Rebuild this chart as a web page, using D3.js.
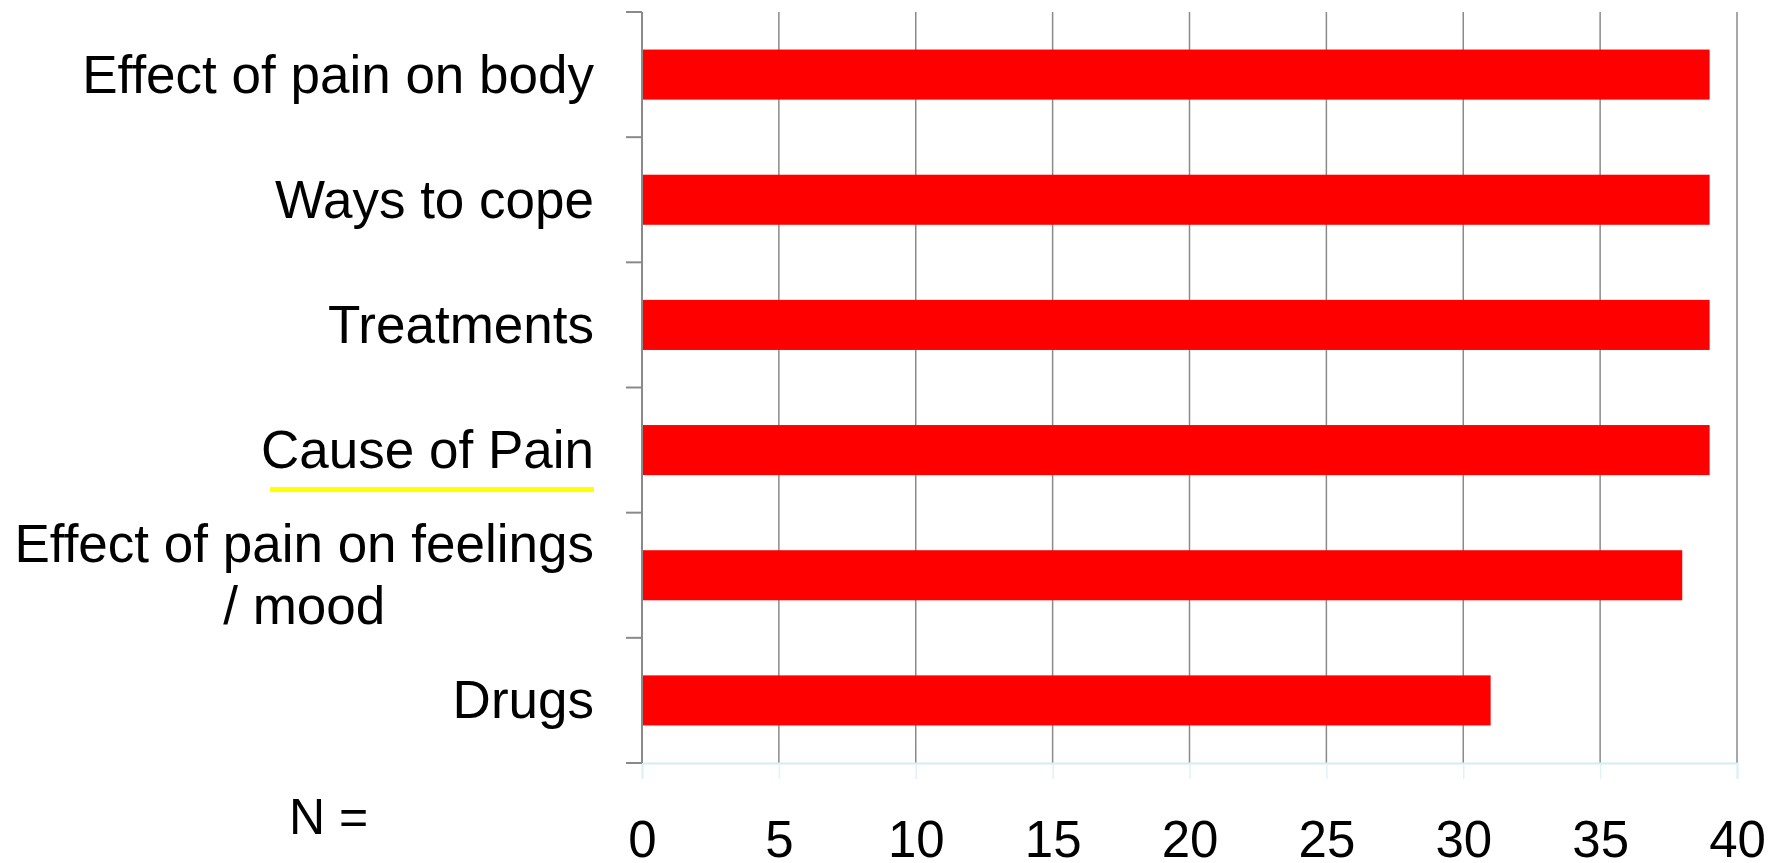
<!DOCTYPE html>
<html>
<head>
<meta charset="utf-8">
<script src="https://cdn.jsdelivr.net/npm/d3@7"></script>
<style>
  body { margin: 0; background: #fff; }
  text { font-family: "Liberation Sans", Arial, sans-serif; fill: #000; }
</style>
</head>
<body>
<div id="chart"></div>
<script>
// Chart size and margins
const width = 1779;
const height = 863;
const margin = { top: 12, right: 42, bottom: 100, left: 642 };

// Data
const categories = [
  "Effect of pain on body",
  "Ways to cope",
  "Treatments",
  "Cause of Pain",
  "Effect of pain on feelings\n/ mood",
  "Drugs"
];
const values = [39, 39, 39, 39, 38, 31];
const xTicks = [0, 5, 10, 15, 20, 25, 30, 35, 40];
const highlighted = "Cause of Pain";

const data = categories.map((c, i) => ({ category: c, value: values[i] }));

const svg = d3.select("#chart")
  .append("svg")
  .attr("width", width)
  .attr("height", height);

// Scales
const x = d3.scaleLinear()
  .domain([0, 40])
  .range([margin.left, width - margin.right]);

const y = d3.scaleBand()
  .domain(categories)
  .range([margin.top, height - margin.bottom])
  .padding(0);

const plotBottom = height - margin.bottom;

// Vertical grid lines
svg.append("g")
  .selectAll("line")
  .data(xTicks.slice(1))
  .enter()
  .append("line")
  .attr("x1", d => x(d))
  .attr("x2", d => x(d))
  .attr("y1", margin.top)
  .attr("y2", plotBottom)
  .attr("stroke", "#8a8a8a")
  .attr("stroke-width", 1.5);

// Bottom axis (light blue line and ticks, labels further down)
const xAxis = svg.append("g")
  .attr("transform", `translate(0, ${plotBottom})`)
  .call(d3.axisBottom(x).tickValues(xTicks).tickSize(16).tickPadding(42));

xAxis.select(".domain").attr("stroke", "#d3eef3").attr("stroke-width", 2);
xAxis.selectAll(".tick line").attr("stroke", "#dff3f7").attr("stroke-width", 1.5);
xAxis.selectAll(".tick text")
  .attr("font-size", 51)
  .attr("font-family", "Liberation Sans, Arial, sans-serif")
  .attr("fill", "#000");

// Bars
const barHeight = y.bandwidth() * 0.4;
svg.append("g")
  .selectAll("rect")
  .data(data)
  .enter()
  .append("rect")
  .attr("x", x(0))
  .attr("y", d => y(d.category) + (y.bandwidth() - barHeight) / 2)
  .attr("width", d => x(d.value) - x(0))
  .attr("height", barHeight)
  .attr("fill", "#ff0000");

// Left axis: grey line with ticks between categories
const bounds = categories.map(c => y(c)).concat([plotBottom]);
svg.append("line")
  .attr("x1", x(0)).attr("x2", x(0))
  .attr("y1", margin.top).attr("y2", plotBottom)
  .attr("stroke", "#8a8a8a")
  .attr("stroke-width", 2);

svg.append("g")
  .selectAll("line")
  .data(bounds)
  .enter()
  .append("line")
  .attr("x1", x(0) - 16)
  .attr("x2", x(0))
  .attr("y1", d => d)
  .attr("y2", d => d)
  .attr("stroke", "#8a8a8a")
  .attr("stroke-width", 2);

// Category labels (right aligned, wrapped lines centred under the first)
const labelX = x(0) - 48;
const fontSize = 53;
const lineGap = 62;
const capHalf = 18;

categories.forEach(c => {
  const lines = c.split("\n");
  const mid = y(c) + y.bandwidth() / 2;
  const firstBase = mid + capHalf - (lines.length - 1) * lineGap / 2;
  const first = svg.append("text")
    .attr("x", labelX)
    .attr("y", firstBase)
    .attr("text-anchor", "end")
    .attr("font-size", fontSize)
    .text(lines[0]);
  const w = first.node().getComputedTextLength();
  lines.slice(1).forEach((ln, i) => {
    svg.append("text")
      .attr("x", labelX - w / 2)
      .attr("y", firstBase + (i + 1) * lineGap)
      .attr("text-anchor", "middle")
      .attr("font-size", fontSize)
      .text(ln);
  });
  if (c === highlighted) {
    svg.append("rect")
      .attr("x", labelX - w + 9)
      .attr("y", firstBase + 19)
      .attr("width", w - 9)
      .attr("height", 5)
      .attr("fill", "#ffff00");
  }
});

// "N =" label
svg.append("text")
  .attr("x", 289)
  .attr("y", 834)
  .attr("font-size", 50)
  .text("N =");
</script>
</body>
</html>
